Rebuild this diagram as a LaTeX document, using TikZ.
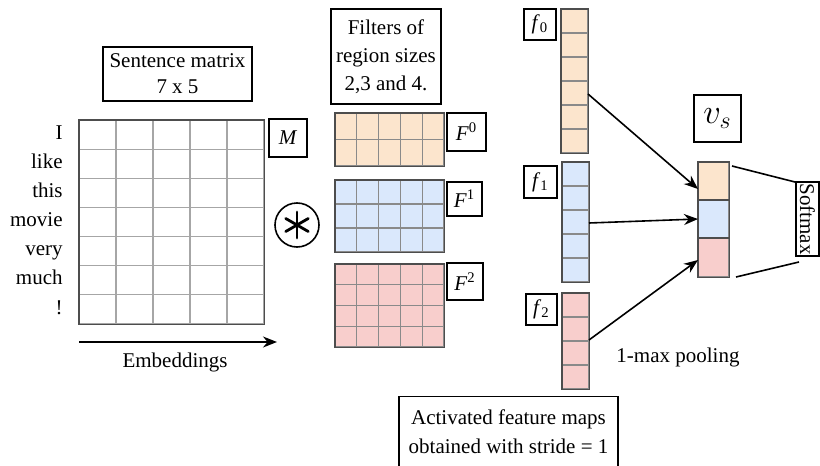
\documentclass[tikz,border=0pt]{standalone}
\usepackage{fontspec}
\setmainfont{Liberation Serif}
\usetikzlibrary{arrows.meta,calc}
\definecolor{cor}{HTML}{FCE5CD}
\definecolor{cbl}{HTML}{DAE8FC}
\definecolor{crd}{HTML}{F8CECC}
\definecolor{gline}{HTML}{8A8A8A}
\definecolor{gborder}{HTML}{4D4D4D}
% name, x0, y0, x1, y1, cols, rows, fill, line colour
\newcommand{\cellgrid}[9]{%
  \node[fill=#8, draw=none, inner sep=0pt, minimum width={0.5pt*(#4-#2)},
        minimum height={0.5pt*(#5-#3)}] (#1) at ({(#2+#4)/2},{(#3+#5)/2}) {};
  \pgfmathsetmacro\gdx{(#4-#2)/#6}
  \pgfmathsetmacro\gdy{(#5-#3)/#7}
  \foreach \k in {0,...,#6} \draw[#9, line width=0.6pt] ({#2+\k*\gdx},#3) -- ({#2+\k*\gdx},#5);
  \foreach \k in {0,...,#7} \draw[#9, line width=0.6pt] (#2,{#3+\k*\gdy}) -- (#4,{#3+\k*\gdy});
  \draw[gborder, line width=0.9pt] (#1.north west) rectangle (#1.south east);
}
\begin{document}
\begin{tikzpicture}[x=0.5pt,y=-0.5pt, font=\fontsize{10.5}{13}\selectfont,
  box/.style={draw=black, line width=0.8pt, inner sep=0pt, align=center},
  arr/.style={-{Stealth[length=7pt,width=5.5pt]}, line width=0.8pt},
  ln/.style={line width=0.8pt},
  word/.style={anchor=mid east, inner sep=0pt}]
\useasboundingbox (0,0) rectangle (820,466);

% sentence matrix
\node[box, minimum width=74.5pt, minimum height=27pt] (sent) at (177.5,74) {Sentence matrix\\7 x 5};
\cellgrid{mgrid}{79}{120}{264}{324}{5}{7}{white}{gray!70}
\node[box, minimum width=19pt, minimum height=19pt] (mlab) at (288,138) {\textit{M}};
\foreach \w [count=\i from 0] in {I,like,this,movie,very,much,!}
  \node[word] (w\i) at (63,{120+14.57+29.14*\i}) {\w};
\coordinate (e1) at (79,342);
\coordinate (e2) at (277,342);
\draw[arr] (e1) -- (e2);
\node (emb) at (175,362) {Embeddings};

% convolution symbol
\node[draw, circle, line width=0.8pt, minimum size=22pt, inner sep=0pt] (ast) at (297,225) {};
\foreach \a in {90,30,150}
  \draw[line width=1.4pt, line cap=round] ($(ast)+(\a:13)$) -- ($(ast)+(\a+180:13)$);

% filters
\node[box, minimum width=55pt, minimum height=47.5pt, font=\fontsize{10.5}{14}\selectfont] (filt) at (386,56.5) {Filters of\\region sizes\\2,3 and 4.};
\cellgrid{F0}{335}{113}{444}{166}{5}{2}{cor}{gline}
\cellgrid{F1}{335}{180}{444}{252}{5}{3}{cbl}{gline}
\cellgrid{F2}{335}{264}{444}{347}{5}{4}{crd}{gline}
\node[box, minimum width=19.5pt, minimum height=19pt] (F0l) at (466.5,132) {\textit{F}\textsuperscript{0}};
\node[box, minimum width=17.5pt, minimum height=17pt] (F1l) at (464.5,199) {\textit{F}\textsuperscript{1}};
\node[box, minimum width=18pt, minimum height=18.5pt] (F2l) at (465,281.5) {\textit{F}\textsuperscript{2}};

% feature maps
\cellgrid{f0}{561}{9}{588}{153}{1}{6}{cor}{gline}
\cellgrid{f1}{562}{162}{589}{282}{1}{5}{cbl}{gline}
\cellgrid{f2}{562}{293}{589}{389}{1}{4}{crd}{gline}
\node[box, minimum width=16pt, minimum height=15.5pt] (f0l) at (540,24.5) {\textit{f}\textsubscript{0}};
\node[box, minimum width=16.5pt, minimum height=16pt] (f1l) at (540.5,182) {\textit{f}\textsubscript{1}};
\node[box, minimum width=15.5pt, minimum height=15.5pt] (f2l) at (541.5,309.5) {\textit{f}\textsubscript{2}};
\node[box, minimum width=109.5pt, minimum height=35.5pt, font=\fontsize{10.5}{14.5}\selectfont] (activ) at (508.5,432) {Activated feature maps\\obtained with stride = 1};

% pooled vector
\cellgrid{pool0}{698}{162}{729}{200}{1}{1}{cor}{gline}
\cellgrid{pool1}{698}{200}{729}{238}{1}{1}{cbl}{gline}
\cellgrid{pool2}{698}{238}{729}{277}{1}{1}{crd}{gline}
\node[box, minimum width=23.5pt, minimum height=23.5pt, font=\fontsize{18}{20}\selectfont] (vs) at (717.5,118.5) {$v_s$};
\node (pooltxt) at (678,357) {1-max pooling};

% arrows
\coordinate (a0) at (588,94);
\coordinate (b0) at (698,189);
\coordinate (a1) at (589,223);
\coordinate (b1) at (698,219);
\coordinate (a2) at (589,340);
\coordinate (b2) at (698,260);
\draw[arr] (a0) -- (b0);
\draw[arr] (a1) -- (b1);
\draw[arr] (a2) -- (b2);

% softmax
\node[box, rotate=-90, minimum width=37pt, minimum height=11.5pt] (soft) at (807.5,219) {Softmax};
\coordinate (p1) at (732,166);
\coordinate (s1) at (795,182);
\coordinate (p2) at (736,277);
\coordinate (s2) at (799,262);
\draw[ln] (p1) -- (s1);
\draw[ln] (p2) -- (s2);
\end{tikzpicture}
\end{document}
